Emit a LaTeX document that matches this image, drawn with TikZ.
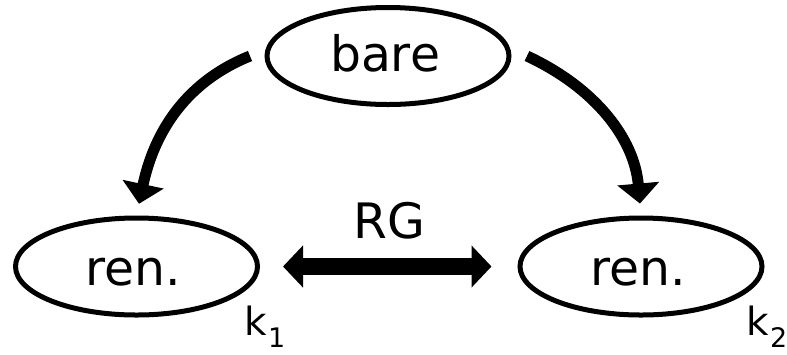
\documentclass[tikz,border=0pt]{standalone}
\usepackage{fontspec}
\setmainfont{DejaVu Sans}
\usetikzlibrary{arrows.meta,shapes.geometric}
\begin{document}
\begin{tikzpicture}[x=1bp,y=1bp,
  oval/.style={ellipse, draw, line width=5bp, minimum width=242bp, minimum height=97bp,
    inner sep=0pt, text depth=0pt, font=\fontsize{49}{58}\selectfont},
  curvy/.style={line width=11bp, -{Triangle[width=41bp,length=20bp]}},
  dbl/.style={line width=17bp, {Triangle[width=41bp,length=20bp]}-{Triangle[width=41bp,length=20bp]}},
  klab/.style={anchor=base west, inner sep=0pt, font=\fontsize{39}{44}\selectfont},
  sub/.style={font=\fontsize{27}{30}\selectfont}]
\useasboundingbox (0,0) rectangle (787,-354);
\node[oval, text height=31.4bp] (bare) at (388,-56) {bare\hspace*{6bp}};
\node[oval, text height=37bp] (renL) at (136.5,-266.5) {ren.\hspace*{6bp}};
\node[oval, text height=37bp] (renR) at (641,-266.5) {ren.\hspace*{6bp}};
\draw[curvy, shorten >=12bp] ([xshift=-14.5bp]bare.west) to[out=202,in=78] (renL.north);
\draw[curvy, shorten >=12bp] ([xshift=15.5bp]bare.east) to[out=-25,in=95] (renR.north);
\draw[dbl, shorten <=23bp, shorten >=26bp] (renL.east) -- (renR.west);
\node[anchor=base, inner sep=0pt, font=\fontsize{49}{58}\selectfont] (rg) at (389,-238) {RG};
\node[klab] (k1) at (244.5,-335) {k\kern1bp\raisebox{-12bp}{\fontsize{27}{30}\selectfont 1}};
\node[klab] (k2) at (746.5,-335) {k\kern1bp\raisebox{-12bp}{\fontsize{27}{30}\selectfont 2}};
\end{tikzpicture}
\end{document}
